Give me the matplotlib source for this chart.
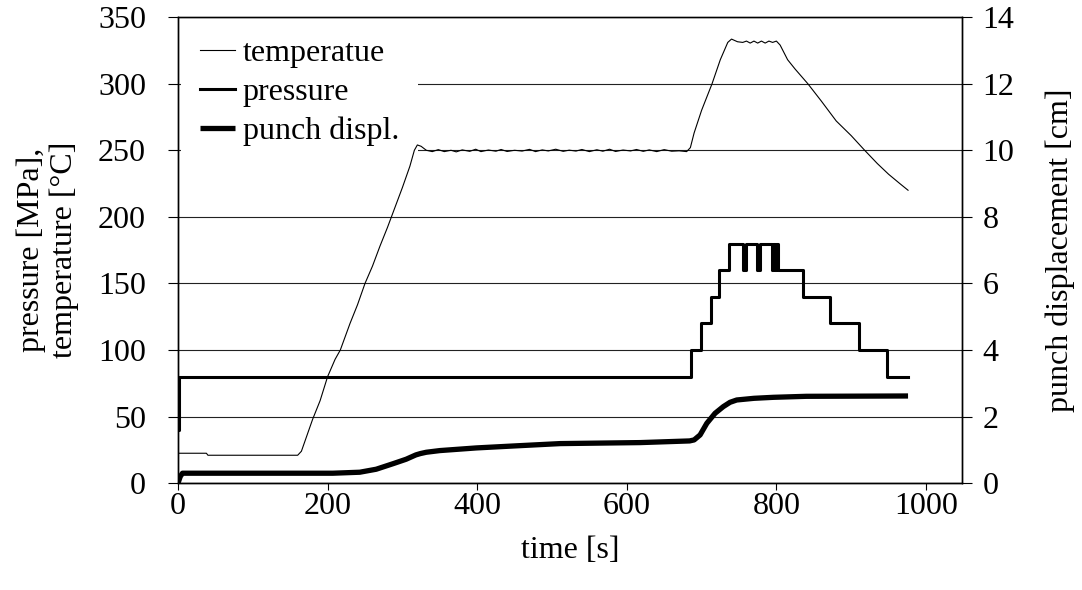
import matplotlib
matplotlib.use("Agg")
import matplotlib.pyplot as plt

# ---- data ----
temp_t = [0, 38, 40, 160, 165, 170, 180, 190, 200, 210, 217, 230, 240, 250, 260, 270, 280, 290,
          300, 310, 316, 320, 325, 332, 340, 348, 356, 365, 372, 380, 390, 398, 405, 415, 425,
          432, 440, 450, 460, 470, 478, 487, 495, 505, 515, 523, 532, 540, 550, 560, 568, 577,
          585, 595, 605, 613, 622, 630, 640, 650, 660, 670, 680, 685, 690, 700, 714, 725, 735,
          740, 748, 755, 760, 765, 770, 775, 780, 785, 790, 795, 800, 805, 815, 825, 842, 860,
          880, 900, 918, 935, 950, 965, 976]
temp_v = [22.5, 22.5, 21, 21, 24, 32, 48, 62, 80, 93, 100, 120, 134, 150, 163, 178, 192, 207,
          222, 238, 250, 254, 253, 250, 249, 250.5, 249, 250, 248.8, 250.3, 249.2, 250.8, 249,
          250.2, 249.3, 250.6, 249.1, 250, 249.4, 250.7, 249, 250.3, 249.5, 250.8, 249.2, 250.1,
          249.4, 250.6, 249, 250.4, 249.3, 250.8, 249.1, 250.2, 249.5, 250.6, 249.2, 250.3, 249,
          250.5, 249.3, 249.6, 249, 252, 263, 280, 300, 318, 331, 333.5, 331.5, 331, 332, 330.5,
          332, 330.5, 332, 330.5, 332, 331, 332, 329, 318, 311, 300, 287, 272, 261, 250, 240,
          232, 225, 220]

pres_t = [0, 2, 686, 699, 712, 723, 737, 756, 759, 774, 778, 794, 796, 798, 800, 802, 835,
          872, 910, 948, 976]
pres_v = [40, 80, 100, 120, 140, 160, 180, 160, 180, 160, 180, 160, 180, 160, 180, 160, 140,
          120, 100, 80, 80]

disp_t = [0, 3, 6, 100, 207, 243, 265, 288, 305, 318, 324, 332, 350, 399, 450, 511, 618, 684,
          690, 698, 707, 718, 729, 738, 747, 770, 796, 840, 976]
disp_v = [0, 0.2, 0.3, 0.3, 0.3, 0.33, 0.42, 0.59, 0.72, 0.85, 0.89, 0.93, 0.98, 1.06, 1.12,
          1.19, 1.22, 1.27, 1.3, 1.45, 1.8, 2.1, 2.3, 2.43, 2.5, 2.55, 2.58, 2.61, 2.62]

x_ticks = [0, 200, 400, 600, 800, 1000]
left_ticks = [0, 50, 100, 150, 200, 250, 300, 350]
right_ticks = [0, 2, 4, 6, 8, 10, 12, 14]

plt.rcParams['font.family'] = ['Liberation Serif', 'DejaVu Serif']
FS = 23

fig = plt.figure(figsize=(10.82, 5.90), dpi=100)
ax = fig.add_axes([0.1645, 0.181, 0.7245, 0.79])
ax2 = ax.twinx()

ax.set_xlim(0, 1048)
ax.set_ylim(0, 350)
ax2.set_ylim(0, 14)

ax.set_yticks(left_ticks)
ax2.set_yticks(right_ticks)
ax.set_xticks(x_ticks)
ax.grid(axis='y', color='#222222', lw=0.8)
ax.set_axisbelow(True)

l1, = ax.plot(temp_t, temp_v, color='black', lw=0.8, zorder=3)
l2, = ax.plot(pres_t, pres_v, color='black', lw=2.2, drawstyle='steps-post', zorder=3)
l3, = ax2.plot(disp_t, disp_v, color='black', lw=3.8, solid_capstyle='butt', zorder=3)

ax.tick_params(axis='y', labelsize=FS, direction='out', length=7, width=0.8, pad=16)
ax.tick_params(axis='x', labelsize=FS, direction='out', length=5, width=0.8, pad=1)
ax2.tick_params(axis='y', labelsize=FS, direction='out', length=7, width=0.8, pad=8)
for a in (ax, ax2):
    for s in a.spines.values():
        s.set_linewidth(1.0)
ax.spines['top'].set_color('#444444')

ax.set_xlabel('time [s]', fontsize=FS, labelpad=11)
ax.set_ylabel('pressure [MPa],\ntemperature [°C]', fontsize=FS, labelpad=14, linespacing=1.15)
ax2.set_ylabel('punch displacement [cm]', fontsize=FS, labelpad=22)

leg = ax.legend([l1, l2, l3], ['temperatue', 'pressure', 'punch displ.'],
                loc='upper left', fontsize=FS, frameon=True, fancybox=False,
                handlelength=1.1, handletextpad=0.25, labelspacing=0.3,
                borderaxespad=0.1, borderpad=0.58)
leg.set_zorder(1)
leg.get_frame().set_edgecolor('none')
leg.get_frame().set_facecolor('white')
leg.get_frame().set_alpha(1.0)

fig.savefig('out.png', dpi=100)
